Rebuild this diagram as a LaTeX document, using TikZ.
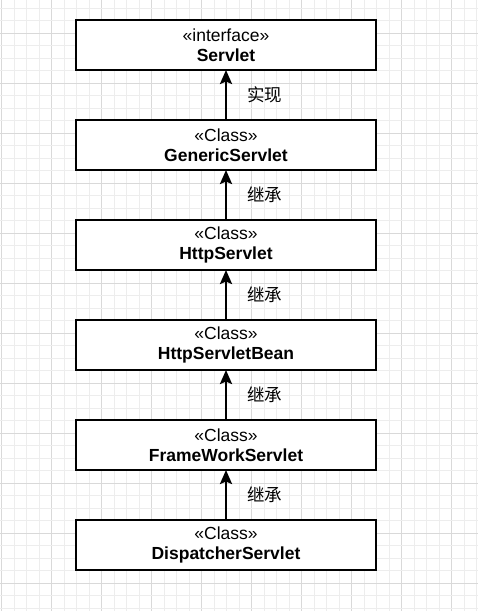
\documentclass[tikz,border=0pt]{standalone}
\usepackage{fontspec}
\setmainfont{Liberation Sans}
\newfontfamily\cjk{Noto Sans CJK SC}
\usetikzlibrary{positioning,arrows.meta}

\begin{document}
\begin{tikzpicture}[x=1pt,y=-1pt,>={Stealth[length=14pt,width=12pt,inset=2.5pt]},
    umlbox/.style={draw,line width=2.4pt,rectangle,minimum width=300pt,minimum height=50pt,
      outer sep=0pt,inner sep=0pt,align=center,font=\fontsize{17.5}{20}\selectfont},
    rel/.style={right=20pt,inner sep=0pt,font=\cjk\fontsize{17.5}{20}\selectfont},
    node distance=50pt]
  \useasboundingbox (0,0) rectangle (478,611);
  \fill[white] (0,0) rectangle (478,611);
  % grid
  \foreach \i in {0,...,38}{
    \pgfmathtruncatemacro{\k}{mod(\i,4)}
    \ifnum\k=0 \draw[line width=0.8pt,black!15] (1.7+12.5*\i,0)--(1.7+12.5*\i,611);
    \else \draw[line width=0.8pt,black!7] (1.7+12.5*\i,0)--(1.7+12.5*\i,611); \fi}
  \foreach \j in {0,...,48}{
    \pgfmathtruncatemacro{\k}{mod(\j+2,4)}
    \ifnum\k=0 \draw[line width=0.8pt,black!15] (0,8.3+12.5*\j)--(478,8.3+12.5*\j);
    \else \draw[line width=0.8pt,black!7] (0,8.3+12.5*\j)--(478,8.3+12.5*\j); \fi}
  % classes
  \node[umlbox,fill=white] (servlet) at (226,45) {«interface»\\\textbf{Servlet}};
  \node[umlbox,fill=white,below=of servlet] (generic) {«Class»\\\textbf{GenericServlet}};
  \node[umlbox,fill=white,below=of generic] (http) {«Class»\\\textbf{HttpServlet}};
  \node[umlbox,fill=white,below=of http] (bean) {«Class»\\\textbf{HttpServletBean}};
  \node[umlbox,fill=white,below=of bean] (framework) {«Class»\\\textbf{FrameWorkServlet}};
  \node[umlbox,fill=white,below=of framework] (dispatcher) {«Class»\\\textbf{DispatcherServlet}};
  % relations
  \draw[->,line width=2.4pt] (generic) -- (servlet) node[midway,rel]{实现};
  \draw[->,line width=2.4pt] (http) -- (generic) node[midway,rel]{继承};
  \draw[->,line width=2.4pt] (bean) -- (http) node[midway,rel]{继承};
  \draw[->,line width=2.4pt] (framework) -- (bean) node[midway,rel]{继承};
  \draw[->,line width=2.4pt] (dispatcher) -- (framework) node[midway,rel]{继承};
\end{tikzpicture}
\end{document}
